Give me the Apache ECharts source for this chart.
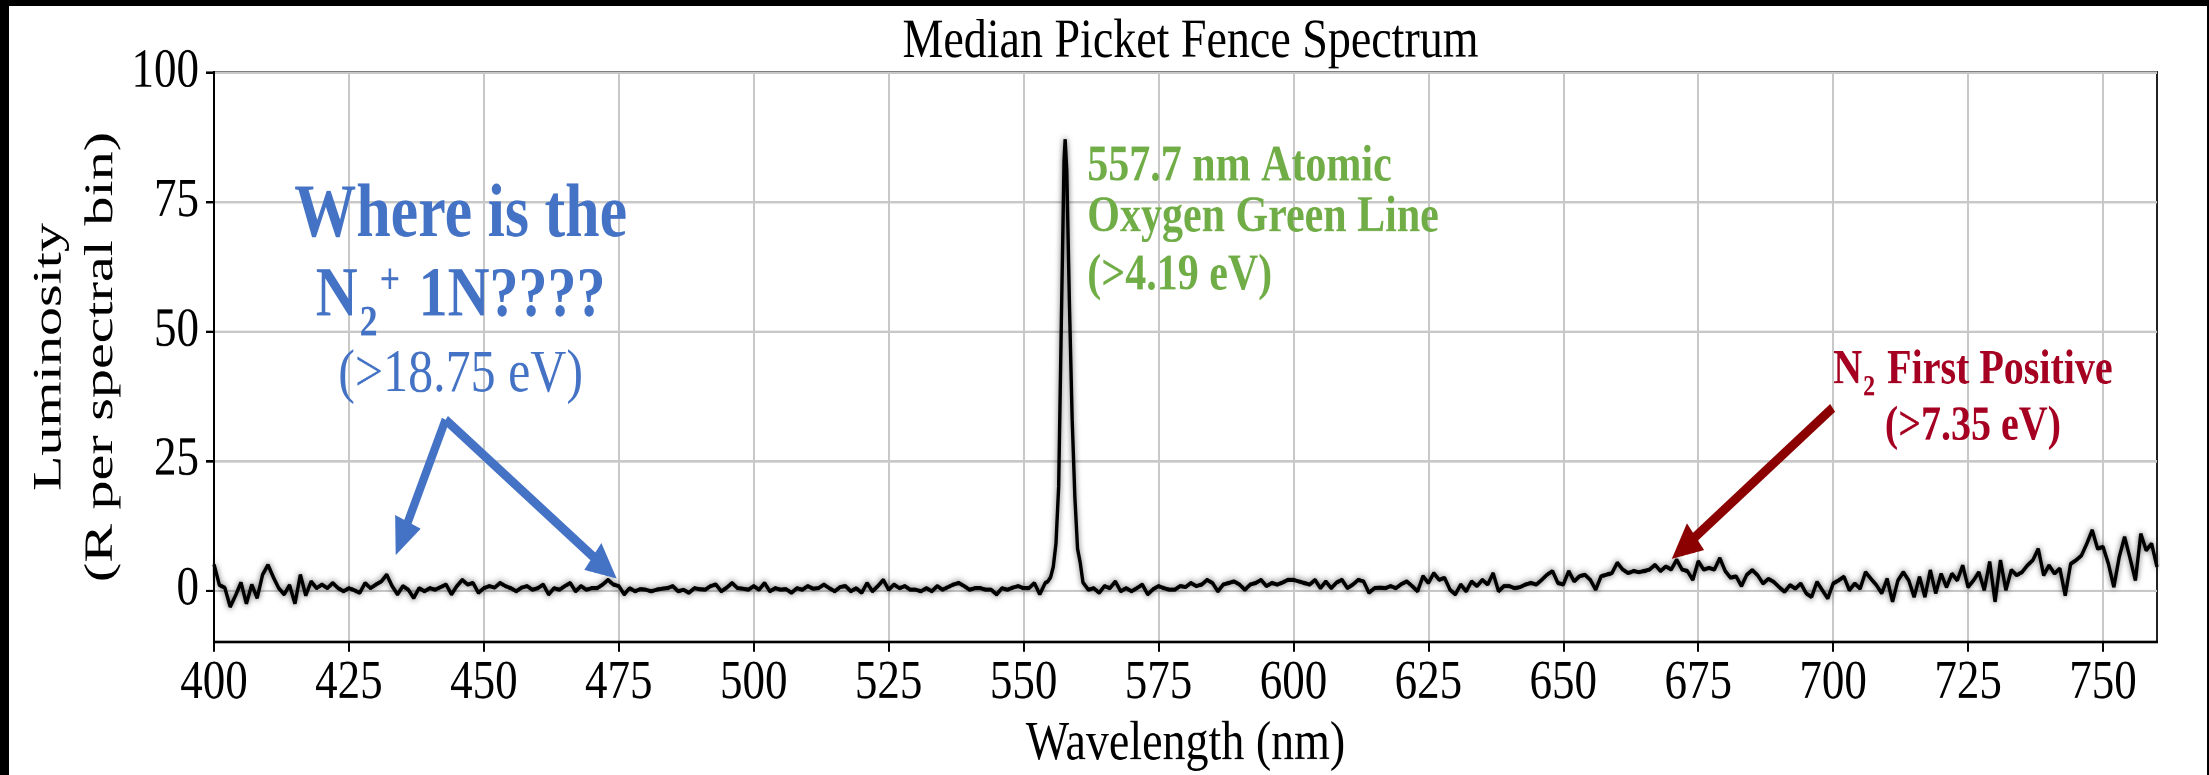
<!DOCTYPE html>
<html>
<head>
<meta charset="utf-8">
<script src="https://cdn.jsdelivr.net/npm/echarts@6.0.0/dist/echarts.min.js"></script>
<style>
html,body{margin:0;padding:0;width:2209px;height:775px;overflow:hidden;background:#fff}
#chart{position:absolute;left:0;top:0;width:2209px;height:640px;transform:scaleY(1.2109375);transform-origin:0 0}
.bk{position:absolute;background:#000}
</style>
</head>
<body>
<div id="chart"></div>
<div class="bk" style="left:0;top:0;width:9px;height:775px"></div>
<div class="bk" style="left:0;top:0;width:2209px;height:6px"></div>
<div class="bk" style="left:2207px;top:0;width:2px;height:775px"></div>
<script>
// ---------------- data ----------------
const titleText = 'Median Picket Fence Spectrum';
const xAxisName = 'Wavelength (nm)';
const yAxisNameLines = ['Luminosity', '(R per spectral bin)'];
const xTicks = [400, 425, 450, 475, 500, 525, 550, 575, 600, 625, 650, 675, 700, 725, 750];
const yTicks = [0, 25, 50, 75, 100];

const wavelength = [
  400,401,402,403,404,405,406,407,408,409,
  410,411,412,413,414,415,416,417,418,419,
  420,421,422,423,424,425,426,427,428,429,
  430,431,432,433,434,435,436,437,438,439,
  440,441,442,443,444,445,446,447,448,449,
  450,451,452,453,454,455,456,457,458,459,
  460,461,462,463,464,465,466,467,468,469,
  470,471,472,473,474,475,476,477,478,479,
  480,481,482,483,484,485,486,487,488,489,
  490,491,492,493,494,495,496,497,498,499,
  500,501,502,503,504,505,506,507,508,509,
  510,511,512,513,514,515,516,517,518,519,
  520,521,522,523,524,525,526,527,528,529,
  530,531,532,533,534,535,536,537,538,539,
  540,541,542,543,544,545,546,547,548,549,
  550,551,552,553,554,554.5,555,555.5,556,556.5,
  557,557.5,557.7,558,558.5,559,559.5,560,560.5,
  561,562,563,564,565,566,567,568,569,
  570,571,572,573,574,575,576,577,578,579,
  580,581,582,583,584,585,586,587,588,589,
  590,591,592,593,594,595,596,597,598,599,
  600,601,602,603,604,605,606,607,608,609,
  610,611,612,613,614,615,616,617,618,619,
  620,621,622,623,624,625,626,627,628,629,
  630,631,632,633,634,635,636,637,638,639,
  640,641,642,643,644,645,646,647,648,649,
  650,651,652,653,654,655,656,657,658,659,
  660,661,662,663,664,665,666,667,668,669,
  670,671,672,673,674,675,676,677,678,679,
  680,681,682,683,684,685,686,687,688,689,
  690,691,692,693,694,695,696,697,698,699,
  700,701,702,703,704,705,706,707,708,709,
  710,711,712,713,714,715,716,717,718,719,
  720,721,722,723,724,725,726,727,728,729,
  730,731,732,733,734,735,736,737,738,739,
  740,741,742,743,744,745,746,747,748,749,
  750,751,752,753,754,755,756,757,758,759,760
];

const luminosity = [
  5.0, 1.0, 0.5, -3.2, -1.0, 1.5, -2.6, 1.1, -1.5, 3.0,
  4.9, 2.5, 0.4, -0.8, 1.0, -2.6, 3.0, -1.0, 1.7, 0.4,
  1.1, 0.4, 1.4, 0.4, -0.2, 0.4, 0.0, -0.5, 1.4, 0.4,
  1.1, 1.7, 3.0, 0.8, -0.8, 0.8, 0.1, -1.5, 0.4, -0.2,
  0.4, 0.1, 0.6, 1.1, -0.8, 0.8, 2.0, 1.1, 1.4, -0.5,
  0.4, 0.8, 0.5, 1.4, 0.8, 0.4, -0.2, 0.5, 0.8, 0.1,
  0.4, 1.1, -0.8, 0.4, 0.1, 0.8, 1.4, -0.2, 0.8, 0.1,
  0.4, 0.4, 1.1, 2.0, 1.1, 0.8, -0.8, 0.4, -0.2, 0.2,
  0.1, -0.2, 0.1, 0.3, 0.4, 0.8, -0.2, 0.1, -0.5, 0.4,
  0.2, 0.1, 0.8, 1.1, -0.2, 0.5, 1.4, 0.4, 0.3, 0.1,
  0.8, 0.1, 1.4, -0.2, 0.4, 0.1, 0.2, -0.5, 0.4, 0.1,
  0.8, 0.3, 0.4, 1.1, 0.4, -0.2, 0.6, 0.8, -0.2, 0.4,
  -0.5, 1.4, -0.2, 0.8, 2.0, 0.1, 1.1, 0.4, 0.8, 0.1,
  0.1, -0.2, 0.4, -0.2, 0.8, 0.1, 0.6, 1.1, 1.4, 0.8,
  0.1, 0.4, 0.4, 0.1, 0.1, -0.8, 0.4, 0.1, 0.5, 0.8,
  0.4, 0.4, 1.4, -0.8, 1.4, 1.7, 2.5, 4.5, 9.0, 20.0,
  52.0, 83.0, 87.0, 81.0, 55.0, 33.0, 18.0, 8.0, 5.3,
  1.5, 0.1, 0.4, -0.5, 0.8, 0.4, 1.7, -0.2, 0.4,
  -0.2, 0.4, 1.1, -0.8, 0.2, 0.8, 0.4, 0.1, 0.1, 0.8,
  0.6, 1.4, 0.8, 1.1, 2.0, 1.4, -0.2, 1.1, 1.4, 1.7,
  1.1, 0.1, 1.1, 1.4, 2.0, 0.8, 1.4, 1.1, 1.5, 2.0,
  2.0, 1.7, 1.4, 1.1, 2.0, 0.4, 1.7, 0.4, 1.5, 2.0,
  0.4, 1.1, 2.0, 1.7, -0.5, 0.4, 0.5, 0.4, 0.8, 0.4,
  1.2, 1.7, 0.8, -0.2, 2.7, 1.4, 3.3, 2.0, 2.4, 0.1,
  -0.8, 1.1, -0.2, 1.7, 0.8, 2.0, 1.1, 3.3, -0.2, 0.8,
  0.8, 0.4, 0.6, 1.1, 1.4, 1.1, 2.0, 3.0, 3.7, 1.4,
  1.1, 3.7, 1.7, 2.7, 3.0, 2.0, 0.1, 2.7, 3.0, 3.3,
  5.3, 4.0, 3.3, 3.7, 3.5, 3.7, 4.0, 4.9, 3.7, 4.6,
  4.0, 5.9, 4.0, 3.7, 2.0, 5.6, 4.0, 4.3, 4.0, 6.2,
  3.7, 2.4, 2.7, 0.8, 3.0, 3.9, 2.9, 1.3, 2.2, 1.6,
  0.6, -0.3, 1.0, 0.3, 1.3, -0.6, -1.3, 1.6, 0.0, -1.6,
  1.3, 1.9, 2.6, 0.0, 1.3, 0.3, 3.5, 2.2, 1.0, -0.6,
  2.2, -2.2, 1.9, 3.5, 1.9, -1.3, 2.6, -1.3, 3.9, -0.6,
  3.2, 0.6, 3.2, 1.9, 4.8, 0.6, 1.9, 3.5, 0.0, 5.5,
  -2.2, 5.8, 0.0, 3.9, 2.9, 3.5, 4.8, 5.8, 8.0, 2.9,
  4.8, 3.2, 4.2, -1.0, 5.1, 5.8, 6.7, 9.0, 11.6, 8.0,
  8.4, 5.1, 0.6, 6.4, 10.3, 6.2, 1.9, 10.9, 7.7, 9.0, 4.5
];

// annotation texts (data-space anchors)
const blueText = ['Where is the', 'N{sub|2}{sup|+} 1N????', '(>18.75 eV)'];
const blueAnchor = [445.7, [72.1, 56.5, 41.5]];
const greenText = ['557.7 nm Atomic', 'Oxygen Green Line', '(>4.19 eV)'];
const greenAnchor = [561.8, [81.6, 71.8, 60.6]];
const redText = ['N{sub|2} First Positive', '(>7.35 eV)'];
const redAnchor = [725.9, [42.3, 31.5]];
// arrows: [start, end] in data space
const blueArrows = [[[442.9, 32.9], [434.8, 10.0]], [[442.9, 32.9], [472.4, 4.4]]];
const redArrows = [[[699.9, 35.2], [672.3, 8.2]]];

// ---------------- chart ----------------
const FONT = 'Liberation Serif';
const BLUE = '#4472C4', GREEN = '#70AD47', RED = '#A50021', RED_ARROW = '#8B0000';

const chart = echarts.init(document.getElementById('chart'), null,
  {renderer: 'canvas', width: 2209, height: 640, devicePixelRatio: 2});

const points = wavelength.map((w, i) => [w, luminosity[i]]);

function arrowItems(list, color) {
  return list.map(a => [
    {coord: a[0], symbol: 'none', lineStyle: {color: color, width: 8, type: 'solid'}},
    {coord: a[1], symbol: 'triangle', symbolSize: [28, 30]}
  ]);
}

const option = {
  animation: false,
  backgroundColor: '#ffffff',
  title: {
    text: titleText, left: 1185.5, top: 7, textAlign: 'center',
    textStyle: {fontFamily: FONT, fontSize: 46, fontWeight: 'normal', color: '#000'}
  },
  grid: {left: 214, right: 52, top: 59.5, bottom: 109.8, show: true,
         borderColor: '#222', borderWidth: 2, containLabel: false, outerBoundsMode: 'none'},
  xAxis: {
    type: 'value', min: 400, max: 760,
    name: xAxisName, nameLocation: 'middle', nameGap: 60,
    nameTextStyle: {fontFamily: FONT, fontSize: 46, color: '#000'},
    axisLine: {show: true, onZero: false, lineStyle: {color: '#000', width: 2}},
    axisTick: {show: true, inside: false, length: 8, customValues: xTicks, lineStyle: {color: '#000', width: 2}},
    axisLabel: {show: true, customValues: xTicks, margin: 12, fontFamily: FONT, fontSize: 45, color: '#000'},
    splitLine: {show: true, lineStyle: {color: '#c8c8c8', width: 2}}
  },
  yAxis: {
    type: 'value', min: -10, max: 100,
    axisLine: {show: true, onZero: false, lineStyle: {color: '#000', width: 2}},
    axisTick: {show: true, inside: false, length: 8, customValues: yTicks, lineStyle: {color: '#000', width: 2}},
    axisLabel: {show: true, customValues: yTicks, margin: 15, fontFamily: FONT, fontSize: 45, color: '#000'},
    splitLine: {show: true, lineStyle: {color: '#c8c8c8', width: 2}}
  },
  series: [{
    name: 'Median spectrum', type: 'line', data: points,
    symbol: 'none', showSymbol: false, clip: true,
    lineStyle: {color: '#000', width: 3.4, shadowColor: 'rgba(0,0,0,0.6)', shadowBlur: 6},
    z: 3,
    markLine: {
      silent: true, animation: false, label: {show: false}, emphasis: {disabled: true},
      symbol: ['none', 'triangle'],
      data: arrowItems(blueArrows, BLUE).concat(arrowItems(redArrows, RED_ARROW))
    }
  }]
};
chart.setOption(option);

// texts positioned through the axes
function px(x, y) { return chart.convertToPixel({gridIndex: 0}, [x, y]); }
function tok(size, weight, pad) {
  return {fontFamily: FONT, fontSize: size, fontWeight: weight, lineHeight: size, padding: pad};
}
const graphics = [];

// y-axis title (two lines, rotated, centred on the plot height)
const pTop = px(400, 100), pBot = px(400, -10);
const yMid = (pTop[1] + pBot[1]) / 2;
yAxisNameLines.forEach((t, i) => {
  graphics.push({
    type: 'text', x: pTop[0] - 164 + i * 51.5, y: yMid, rotation: Math.PI / 2, scaleX: 1.2, z: 10,
    style: {text: t, fill: '#000', align: 'center', verticalAlign: 'middle',
            fontFamily: FONT, fontSize: 40, fontWeight: 'normal'}
  });
});

blueText.forEach((t, i) => {
  const p = px(blueAnchor[0], blueAnchor[1][i]);
  const big = i < 2;
  graphics.push({
    type: 'text', x: p[0], y: p[1], z: 10,
    style: {
      text: t, fill: BLUE, align: 'center', verticalAlign: 'middle',
      fontFamily: FONT, fontSize: big ? (i === 0 ? 62 : 58) : 50, fontWeight: big ? 'bold' : 'normal',
      rich: {
        sub: Object.assign(tok(36, 'bold', [44, 2, 0, 2]), {fill: BLUE}),
        sup: Object.assign(tok(36, 'bold', [0, 4, 26, 0]), {fill: BLUE})
      }
    }
  });
});
greenText.forEach((t, i) => {
  const p = px(greenAnchor[0], greenAnchor[1][i]);
  graphics.push({
    type: 'text', x: p[0], y: p[1], z: 10,
    style: {text: t, fill: GREEN, align: 'left', verticalAlign: 'middle',
            fontFamily: FONT, fontSize: 42, fontWeight: 'bold'}
  });
});
redText.forEach((t, i) => {
  const p = px(redAnchor[0], redAnchor[1][i]);
  graphics.push({
    type: 'text', x: p[0], y: p[1], z: 10,
    style: {
      text: t, fill: RED, align: 'center', verticalAlign: 'middle',
      fontFamily: FONT, fontSize: 40, fontWeight: 'bold',
      rich: {sub: Object.assign(tok(24, 'bold', [28, 2, 0, 1]), {fill: RED})}
    }
  });
});
chart.setOption({graphic: graphics});
</script>
</body>
</html>
